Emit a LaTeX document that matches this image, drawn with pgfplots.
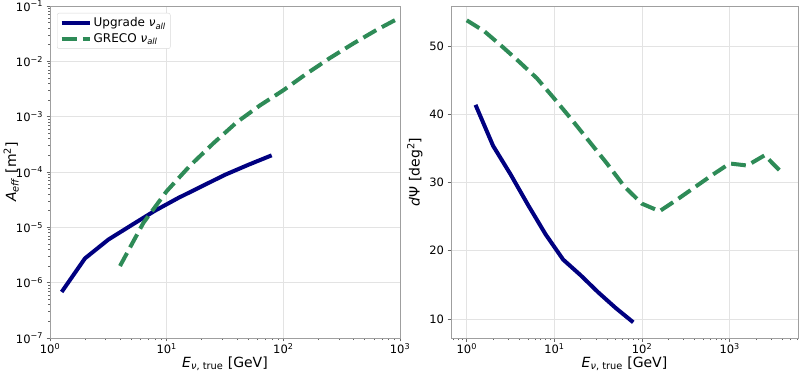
\documentclass[border=0pt]{standalone}
\usepackage{fontspec}
\setmainfont{DejaVu Sans}
\usepackage{pgfplots}
\pgfplotsset{compat=1.18}
\definecolor{upg}{HTML}{000080}
\definecolor{grc}{HTML}{2E8B57}
\newcommand{\tp}[1]{10\textsuperscript{#1}}
\begin{document}
\begin{tikzpicture}
\path[use as bounding box] (-50bp,-33bp) rectangle (750bp,338bp);
\begin{axis}[scale only axis, height=332bp, width=350bp,
  xmode=log, ymode=log,
  axis line style={gray!75, line width=0.8bp},
  grid=major, grid style={gray!22, line width=0.8bp},
  tick align=outside, xtick pos=bottom, ytick pos=left,
  major tick length=3.5bp, minor tick length=2bp,
  tick style={gray!80!black, line width=0.8bp},
  tick label style={font=\fontsize{11.5bp}{13bp}\selectfont},
  xticklabel style={yshift=1.5bp},
  label style={font=\fontsize{14bp}{16bp}\selectfont},
  xlabel={\textit{E}\textsubscript{\textit{ν}, true} [GeV]},
  xlabel style={at={(axis description cs:0.5,-0.077)}, anchor=center},
  xtick={1,10,100,1000},
  xticklabels={\tp{0},\tp{1},\tp{2},\tp{3}},
  xmin=1, xmax=1000, ymin=1e-7, ymax=1e-1,
  ytick={1e-7,1e-6,1e-5,1e-4,1e-3,1e-2,1e-1},
  yticklabels={\tp{−7},\tp{−6},\tp{−5},\tp{−4},\tp{−3},\tp{−2},\tp{−1}},
  minor xtick={2,3,4,5,6,7,8,9,20,30,40,50,60,70,80,90,200,300,400,500,600,700,800,900},
  ylabel={\textit{A}\textsubscript{\textit{eff}} [m\textsuperscript{2}]},
  ylabel style={at={(axis description cs:-0.111,0.5)}, anchor=center},
  legend style={at={(axis description cs:0.02,0.979)}, anchor=north west,
    draw=gray!30, rounded corners=2bp, fill=white,
    font=\fontsize{12bp}{14bp}\selectfont, inner sep=2.5bp, row sep=1.5bp},
  legend cell align=left,
  legend image code/.code={\draw[#1] (0bp,0bp) -- (28bp,0bp);},
]
\addplot[color=upg, line width=4bp, line join=round] table {
x y
1.2589 6.8e-7
1.9953 2.75e-6
3.1623 6.0e-6
5.0119 1.1e-5
7.9433 2.0e-5
12.589 3.4e-5
19.953 5.5e-5
31.623 8.9e-5
50.119 1.35e-4
79.433 2.0e-4
};
\addlegendentry{Upgrade \textit{ν\textsubscript{all}}}
\addplot[color=grc, line width=4bp, dash pattern=on 14.8bp off 6.4bp] table {
x y
3.9811 2.0e-6
6.3096 1.2e-5
10 4.5e-5
15.849 1.3e-4
25.119 3.3e-4
39.811 7.9e-4
63.096 1.6e-3
100 3.0e-3
158.49 6.0e-3
251.19 1.15e-2
398.11 2.1e-2
630.96 3.7e-2
1000 6.2e-2
};
\addlegendentry{GRECO \textit{ν\textsubscript{all}}}
\end{axis}
\begin{axis}[scale only axis, height=332bp, width=347bp, at={(401bp,0bp)},
  xmode=log,
  axis line style={gray!75, line width=0.8bp},
  grid=major, grid style={gray!22, line width=0.8bp},
  tick align=outside, xtick pos=bottom, ytick pos=left,
  major tick length=3.5bp, minor tick length=2bp,
  tick style={gray!80!black, line width=0.8bp},
  tick label style={font=\fontsize{11.5bp}{13bp}\selectfont},
  xticklabel style={yshift=1.5bp},
  label style={font=\fontsize{14bp}{16bp}\selectfont},
  xlabel={\textit{E}\textsubscript{\textit{ν}, true} [GeV]},
  xlabel style={at={(axis description cs:0.5,-0.077)}, anchor=center},
  xtick={1,10,100,1000},
  xticklabels={\tp{0},\tp{1},\tp{2},\tp{3}},
  xmin=0.661, xmax=6026, ymin=7.2, ymax=55.9,
  ytick={10,20,30,40,50},
  yticklabels={10,20,30,40,50},
  minor xtick={0.7,0.8,0.9,2,3,4,5,6,7,8,9,20,30,40,50,60,70,80,90,200,300,400,500,600,700,800,900,2000,3000,4000,5000,6000},
  ylabel={\textit{d}Ψ [deg\textsuperscript{2}]},
  ylabel style={at={(axis description cs:-0.104,0.5)}, anchor=center},
]
\addplot[color=upg, line width=4bp, line join=round] table {
x y
1.2589 41.4
1.9953 35.4
3.1623 31.2
5.0119 26.7
7.9433 22.4
12.589 18.7
19.953 16.4
31.623 13.9
50.119 11.6
79.433 9.5
};
\addplot[color=grc, line width=4bp, dash pattern=on 14.8bp off 6.4bp] table {
x y
1 53.8
1.5849 52.2
2.5119 50.0
3.9811 47.7
6.3096 45.3
10 42.3
15.849 39.2
25.119 36.0
39.811 32.8
63.096 29.4
100 26.9
158.49 25.8
251.19 27.5
398.11 29.3
630.96 31.1
1000 32.8
1584.9 32.5
2511.9 34.0
3981.1 31.4
};
\end{axis}
\end{tikzpicture}
\end{document}
